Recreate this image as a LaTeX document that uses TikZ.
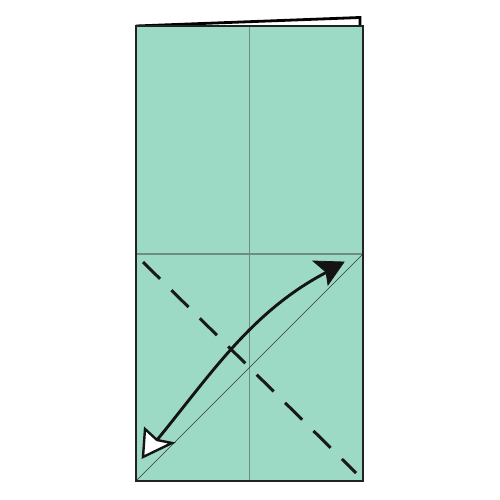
\documentclass[tikz,border=0pt]{standalone}
\begin{document}
\begin{tikzpicture}[x=1pt,y=-1pt,
  paper/.style={fill=paperg,draw=edgec,line width=2.6pt,line join=miter},
  crease/.style={draw=creasec,line width=1.4pt},
  thin/.style={draw=black!80,line width=0.6pt},
  valley/.style={draw=black!90,line width=3pt,dash pattern=on 24pt off 16pt},
  arrowline/.style={draw=black!92,line width=2.9pt},
  headblack/.style={fill=black!92,draw=black!92,line width=0.8pt,line join=miter},
  headwhite/.style={fill=white,draw=black!92,line width=2.4pt,line join=miter}]
\definecolor{paperg}{HTML}{9DDAC5}
\definecolor{edgec}{HTML}{222222}
\definecolor{creasec}{HTML}{6E8C82}
\useasboundingbox (0,0) rectangle (500,500);
% back layer
\draw[fill=white,draw=black,line width=2.8pt] (136,26) -- (360,17.5) -- (360,26);
% front paper
\draw[paper] (136,26) rectangle (363,481);
\draw[crease] (249.5,26) -- (249.5,481);
\draw[crease] (136,254) -- (363,254);
\draw[thin] (136,481) -- (363,254);
% valley fold line
\coordinate (v1) at (143,262);
\coordinate (v2) at (356,473);
\draw[valley] (v1) -- (v2);
% redraw border on top
\draw[draw=edgec,line width=2.6pt] (136,26) rectangle (363,481);
% curved arrow
\coordinate (s) at (157,440);
\coordinate (e) at (327,272);
\draw[arrowline] (s) .. controls (211,374) and (252,311) .. (e);
\draw[headblack] (344,262) -- (313,261) -- (326,272) -- (328,285) -- cycle;
\draw[headwhite] (143,457) -- (145,429) -- (157,440) -- (172,443) -- cycle;
\end{tikzpicture}
\end{document}
